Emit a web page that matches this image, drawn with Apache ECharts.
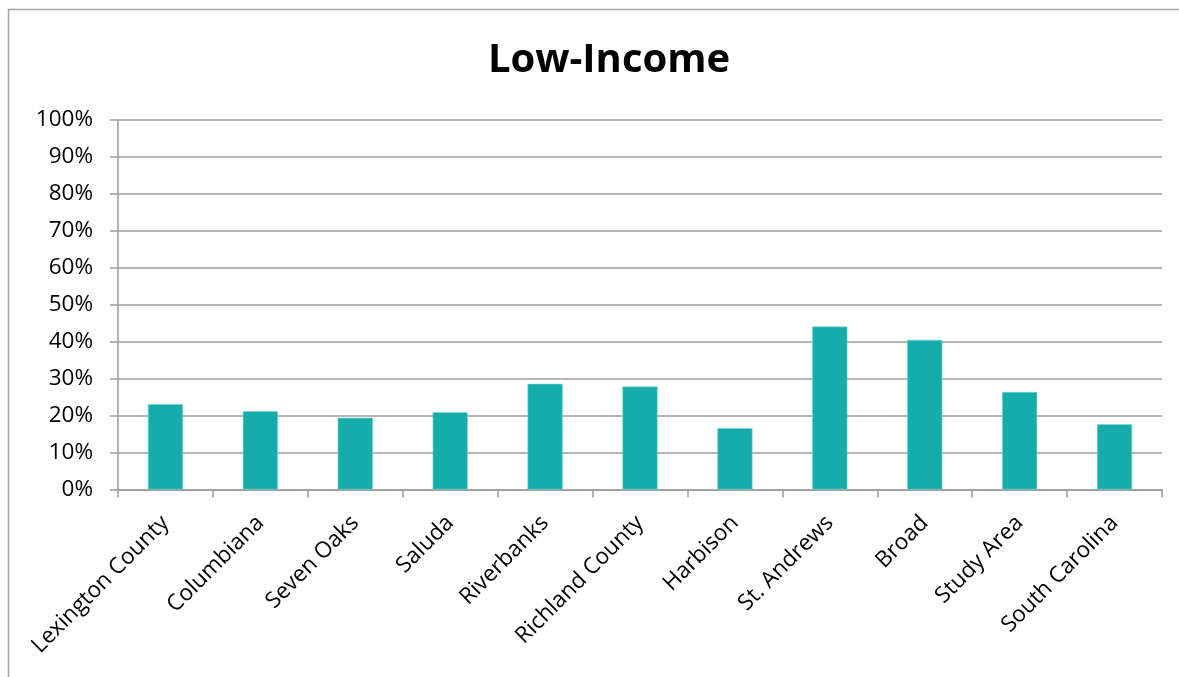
<!DOCTYPE html>
<html>
<head>
<meta charset="utf-8">
<script src="https://cdn.jsdelivr.net/npm/echarts@6/dist/echarts.min.js"></script>
<style>
  html, body { margin: 0; padding: 0; background: #fff; }
  #chart { width: 1179px; height: 677px; }
</style>
</head>
<body>
<div id="chart"></div>
<script>
// Share of low-income population by area
const categories = [
  'Lexington County', 'Columbiana', 'Seven Oaks', 'Saluda', 'Riverbanks',
  'Richland County', 'Harbison', 'St. Andrews', 'Broad', 'Study Area', 'South Carolina'
];
const lowIncomeShare = [0.231, 0.212, 0.194, 0.209, 0.286, 0.279, 0.166, 0.441, 0.405, 0.264, 0.177];
const chartTitle = 'Low-Income';

const FONT = '"Open Sans", "Liberation Sans", sans-serif';
const GRID_GREY = '#9c9c9c';

const chart = echarts.init(document.getElementById('chart'), null, { renderer: 'canvas' });

chart.setOption({
  animation: false,
  backgroundColor: '#ffffff',
  graphic: [{
    type: 'rect',
    shape: { x: 8.5, y: 9.5, width: 1300, height: 800 },
    style: { fill: 'none', stroke: '#a3a3a3', lineWidth: 1.5 },
    silent: true
  }],
  title: {
    text: chartTitle,
    left: 604,
    textAlign: 'center',
    top: 36,
    textStyle: { fontFamily: FONT, fontWeight: 'bold', fontSize: 40, color: '#000' }
  },
  grid: { left: 118, right: 17, top: 120, bottom: 187.5, containLabel: false },
  xAxis: {
    type: 'category',
    data: categories,
    boundaryGap: true,
    axisLine: { show: true, lineStyle: { color: GRID_GREY, width: 1.5 } },
    axisTick: { show: true, alignWithLabel: false, length: 8, lineStyle: { color: GRID_GREY, width: 1.5 } },
    axisLabel: {
      rotate: 45,
      interval: 0,
      margin: 30,
      fontFamily: FONT,
      fontSize: 22.5,
      color: '#000'
    },
    splitLine: { show: false }
  },
  yAxis: {
    type: 'value',
    min: 0,
    max: 1,
    interval: 0.1,
    axisLine: { show: true, lineStyle: { color: GRID_GREY, width: 1.5 } },
    axisTick: { show: true, inside: false, length: 8, lineStyle: { color: GRID_GREY, width: 1.5 } },
    axisLabel: {
      margin: 25,
      fontFamily: FONT,
      fontSize: 22.5,
      color: '#000',
      formatter: v => Math.round(v * 100) + '%'
    },
    splitLine: { show: true, lineStyle: { color: GRID_GREY, width: 1.5 } }
  },
  series: [{
    type: 'bar',
    data: lowIncomeShare,
    barWidth: '37%',
    itemStyle: { color: '#14ada9', borderColor: '#7fd3d0', borderWidth: 0.6 }
  }]
});
</script>
</body>
</html>
